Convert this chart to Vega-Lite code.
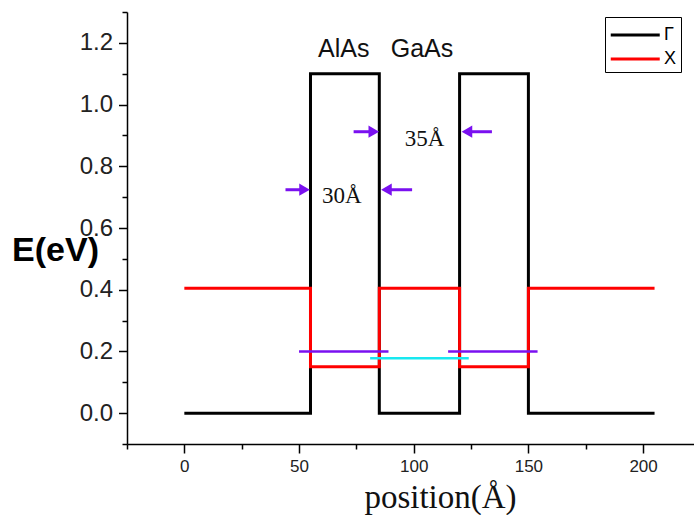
{
  "$schema": "https://vega.github.io/schema/vega-lite/v6.json",
  "width": 567,
  "height": 432,
  "autosize": {"type": "none"},
  "padding": {"left": 127, "top": 12, "right": 0, "bottom": 71},
  "background": "white",
  "config": {
    "view": {"stroke": null},
    "axis": {
      "domainColor": "black",
      "domainWidth": 1.5,
      "tickColor": "black",
      "tickWidth": 1.5,
      "grid": false,
      "labelFont": "Liberation Sans",
      "labelColor": "#222"
    }
  },
  "resolve": {"axis": {"x": "independent", "y": "independent"}},
  "datasets": {
    "profile": [
      {"s": "Γ", "i": 0, "x": 0, "y": 0},
      {"s": "Γ", "i": 1, "x": 55, "y": 0},
      {"s": "Γ", "i": 2, "x": 55, "y": 1.1},
      {"s": "Γ", "i": 3, "x": 85, "y": 1.1},
      {"s": "Γ", "i": 4, "x": 85, "y": 0},
      {"s": "Γ", "i": 5, "x": 120, "y": 0},
      {"s": "Γ", "i": 6, "x": 120, "y": 1.1},
      {"s": "Γ", "i": 7, "x": 150, "y": 1.1},
      {"s": "Γ", "i": 8, "x": 150, "y": 0},
      {"s": "Γ", "i": 9, "x": 205, "y": 0},
      {"s": "X", "i": 0, "x": 0, "y": 0.405},
      {"s": "X", "i": 1, "x": 55, "y": 0.405},
      {"s": "X", "i": 2, "x": 55, "y": 0.15},
      {"s": "X", "i": 3, "x": 85, "y": 0.15},
      {"s": "X", "i": 4, "x": 85, "y": 0.405},
      {"s": "X", "i": 5, "x": 120, "y": 0.405},
      {"s": "X", "i": 6, "x": 120, "y": 0.15},
      {"s": "X", "i": 7, "x": 150, "y": 0.15},
      {"s": "X", "i": 8, "x": 150, "y": 0.405},
      {"s": "X", "i": 9, "x": 205, "y": 0.405}
    ],
    "levels": [
      {"kind": "well", "x": 50, "x2": 89, "y": 0.2},
      {"kind": "well", "x": 115, "x2": 154, "y": 0.2},
      {"kind": "barrier", "x": 81, "x2": 124, "y": 0.178}
    ],
    "arrows": [
      {"tail": 44.1, "head": 52.4, "y": 0.724, "dir": "right"},
      {"tail": 99.3, "head": 88.1, "y": 0.724, "dir": "left"},
      {"tail": 73.8, "head": 82.6, "y": 0.912, "dir": "right"},
      {"tail": 134.1, "head": 123.2, "y": 0.912, "dir": "left"}
    ],
    "serifLabels": [
      {"t": "30Å", "x": 68.6, "y": 0.68},
      {"t": "35Å", "x": 104.7, "y": 0.867}
    ],
    "sansLabels": [
      {"t": "AlAs", "x": 69.5, "y": 1.153},
      {"t": "GaAs", "x": 103.6, "y": 1.153}
    ]
  },
  "layer": [
    {
      "data": {"name": "profile"},
      "mark": {"type": "line", "strokeWidth": 3},
      "encoding": {
        "x": {
          "field": "x", "type": "quantitative",
          "scale": {"domain": [-25, 222.2], "nice": false, "zero": false},
          "axis": {
            "orient": "bottom",
            "values": [0, 50, 100, 150, 200],
            "tickSize": 9,
            "labelFontSize": 17,
            "labelPadding": 5,
            "title": "position(Å)",
            "titleFont": "Liberation Serif",
            "titleFontSize": 33,
            "titleFontWeight": "normal",
            "titleColor": "#111",
            "titleX": 313,
            "titleY": 63,
            "titleAlign": "center",
            "titleBaseline": "alphabetic"
          }
        },
        "y": {
          "field": "y", "type": "quantitative",
          "scale": {"domain": [-0.1, 1.3], "nice": false, "zero": false},
          "axis": {
            "orient": "left",
            "values": [0, 0.2, 0.4, 0.6, 0.8, 1.0, 1.2],
            "format": ".1f",
            "tickSize": 8.5,
            "labelFontSize": 24,
            "labelPadding": 6,
            "title": "E(eV)",
            "titleFont": "Liberation Sans",
            "titleFontSize": 34,
            "titleFontWeight": "bold",
            "titleColor": "black",
            "titleAngle": 0,
            "titleX": -72,
            "titleY": 248,
            "titleAlign": "center",
            "titleBaseline": "alphabetic"
          }
        },
        "color": {
          "field": "s", "type": "nominal",
          "scale": {"domain": ["Γ", "X"], "range": ["black", "#ff0000"]},
          "legend": {
            "orient": "none",
            "legendX": 478,
            "legendY": 5,
            "title": null,
            "symbolType": "M-1,0H3",
            "symbolSize": 600,
            "symbolStrokeWidth": 3,
            "labelFont": "Liberation Sans",
            "labelFontSize": 18,
            "labelColor": "black",
            "labelOffset": 27,
            "padding": 4,
            "rowPadding": 1,
            "strokeColor": "black",
            "fillColor": "white"
          }
        },
        "order": {"field": "i", "type": "quantitative"}
      }
    },
    {
      "data": {"name": "levels"},
      "transform": [{"filter": "datum.kind == 'well'"}],
      "mark": {"type": "rule", "color": "#7a10f0", "strokeWidth": 2.5},
      "encoding": {
        "x": {
          "field": "x", "type": "quantitative",
          "axis": {"orient": "bottom", "values": [-25, 25, 75, 125, 175], "tickSize": 5, "labels": false, "domain": false, "title": null}
        },
        "x2": {"field": "x2"},
        "y": {
          "field": "y", "type": "quantitative",
          "axis": {"orient": "left", "values": [-0.1, 0.1, 0.3, 0.5, 0.7, 0.9, 1.1, 1.3], "tickSize": 5, "labels": false, "domain": false, "title": null}
        }
      }
    },
    {
      "data": {"name": "levels"},
      "transform": [{"filter": "datum.kind == 'barrier'"}],
      "mark": {"type": "rule", "color": "#18e8f0", "strokeWidth": 2.5},
      "encoding": {
        "x": {"field": "x", "type": "quantitative", "axis": null},
        "x2": {"field": "x2"},
        "y": {"field": "y", "type": "quantitative", "axis": null}
      }
    },
    {
      "data": {"name": "arrows"},
      "mark": {"type": "rule", "color": "#7a10f0", "strokeWidth": 3},
      "encoding": {
        "x": {"field": "tail", "type": "quantitative", "axis": null},
        "x2": {"field": "head"},
        "y": {"field": "y", "type": "quantitative", "axis": null}
      }
    },
    {
      "data": {"name": "arrows"},
      "transform": [{"filter": "datum.dir == 'right'"}],
      "mark": {"type": "point", "shape": "triangle-right", "filled": true, "color": "#7a10f0", "size": 150, "opacity": 1},
      "encoding": {
        "x": {"field": "head", "type": "quantitative", "axis": null},
        "y": {"field": "y", "type": "quantitative", "axis": null}
      }
    },
    {
      "data": {"name": "arrows"},
      "transform": [{"filter": "datum.dir == 'left'"}],
      "mark": {"type": "point", "shape": "triangle-left", "filled": true, "color": "#7a10f0", "size": 150, "opacity": 1},
      "encoding": {
        "x": {"field": "head", "type": "quantitative", "axis": null},
        "y": {"field": "y", "type": "quantitative", "axis": null}
      }
    },
    {
      "data": {"name": "serifLabels"},
      "mark": {"type": "text", "font": "Liberation Serif", "fontSize": 23, "color": "#111", "align": "center", "baseline": "alphabetic"},
      "encoding": {
        "x": {"field": "x", "type": "quantitative", "axis": null},
        "y": {"field": "y", "type": "quantitative", "axis": null},
        "text": {"field": "t"}
      }
    },
    {
      "data": {"name": "sansLabels"},
      "mark": {"type": "text", "font": "Liberation Sans", "fontSize": 25, "color": "#111", "align": "center", "baseline": "alphabetic"},
      "encoding": {
        "x": {"field": "x", "type": "quantitative", "axis": null},
        "y": {"field": "y", "type": "quantitative", "axis": null},
        "text": {"field": "t"}
      }
    }
  ]
}
